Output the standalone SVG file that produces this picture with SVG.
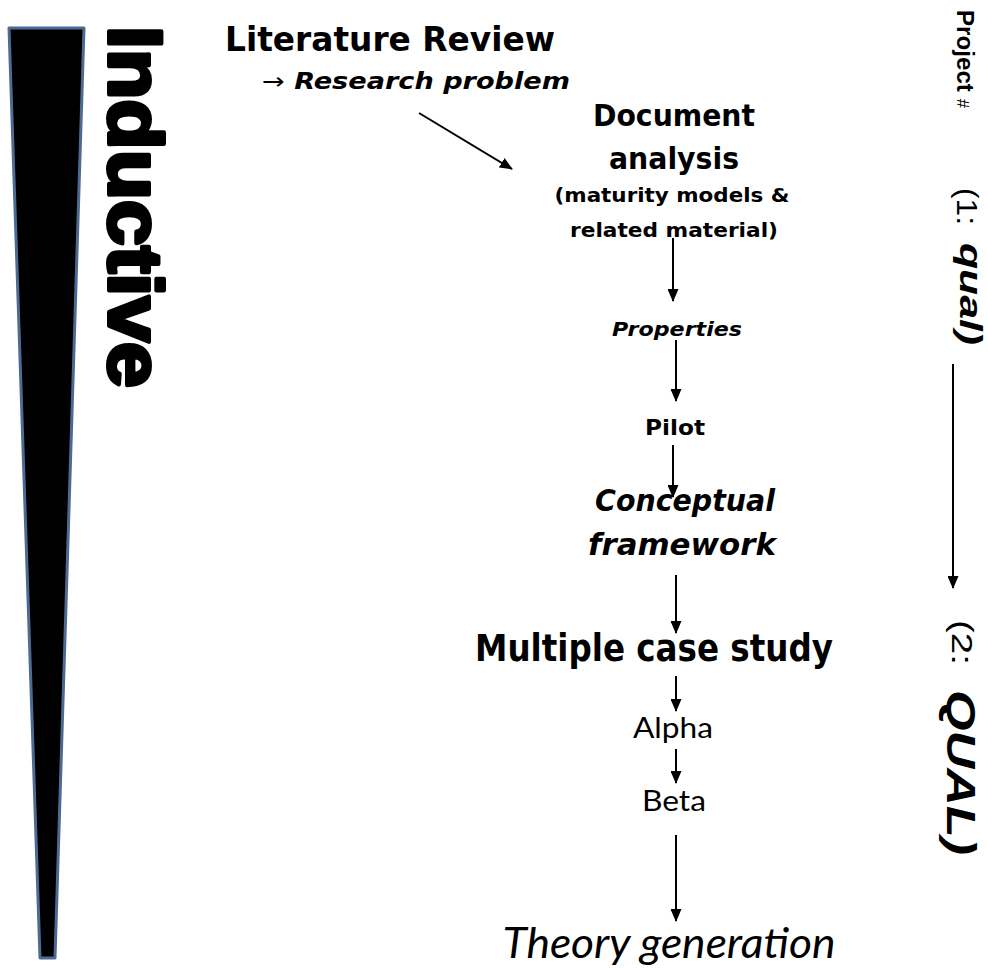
<svg xmlns="http://www.w3.org/2000/svg" width="988" height="968" viewBox="0 0 988 968">
  <defs>
    <marker id="arrowhead-lg" markerWidth="13" markerHeight="11" refX="12" refY="5.5" orient="auto" markerUnits="userSpaceOnUse" viewBox="0 0 13 11">
      <path d="M0,0 L13,5.5 L0,11 Z" fill="#000"/>
    </marker>
  </defs>
  <style>
    .geo { font-family: "DejaVu Sans", "Liberation Sans", sans-serif; font-weight: bold; fill: #000; }
    .geo-it { font-family: "DejaVu Sans", "Liberation Sans", sans-serif; font-weight: bold; font-style: italic; fill: #000; }
    .plain { font-family: Lato, "Open Sans", "Liberation Sans", sans-serif; fill: #000; }
    .side { font-family: "Liberation Sans", Arial, sans-serif; fill: #000; }
    .link { stroke: #000; stroke-width: 2; fill: none; marker-end: url(#arrowhead-lg); }
  </style>
  <rect width="988" height="968" fill="#fff"/>

  <!-- tapering wedge with its vertical title -->
  <g id="wedge">
    <polygon points="9,28 84,28 55,958 40,958" fill="#000" stroke="#4d6b92" stroke-width="3" stroke-linejoin="round"/>
    <text class="side" font-weight="bold" font-size="76" stroke="#000" stroke-width="4" stroke-linejoin="round" transform="translate(109,26) rotate(90)" textLength="362" lengthAdjust="spacingAndGlyphs">Inductive</text>
  </g>

  <!-- project labels along the right edge -->
  <g id="project-label">
    <text class="side" font-weight="bold" font-size="23" transform="translate(957,10) rotate(90)" textLength="98" lengthAdjust="spacingAndGlyphs">Project <tspan font-weight="normal" font-size="16">#</tspan></text>
  </g>
  <g id="project-1">
    <text class="side" font-size="29" transform="translate(957,188) rotate(90)" textLength="37" lengthAdjust="spacingAndGlyphs">(1:</text>
    <text class="side" font-weight="bold" font-style="italic" font-size="31" transform="translate(960,243) rotate(90)" textLength="102" lengthAdjust="spacingAndGlyphs">qual)</text>
  </g>
  <g id="project-2">
    <text class="side" font-size="30" transform="translate(952,620) rotate(90)" textLength="45" lengthAdjust="spacingAndGlyphs">(2:</text>
    <text class="side" font-weight="bold" font-style="italic" font-size="41" transform="translate(947,690) rotate(90)" textLength="165" lengthAdjust="spacingAndGlyphs">QUAL)</text>
  </g>

  <!-- flow nodes -->
  <g id="literature-review">
    <text class="geo" font-size="33" x="225" y="51" textLength="330" lengthAdjust="spacingAndGlyphs">Literature Review</text>
    <text class="geo-it" font-size="23" x="262" y="89" textLength="308" lengthAdjust="spacingAndGlyphs"><tspan font-weight="normal" font-style="normal">→</tspan> Research problem</text>
  </g>
  <g id="document-analysis">
    <text class="geo" font-size="30" x="674" y="126" text-anchor="middle" textLength="162" lengthAdjust="spacingAndGlyphs">Document</text>
    <text class="geo" font-size="30" x="674" y="169" text-anchor="middle" textLength="130" lengthAdjust="spacingAndGlyphs">analysis</text>
    <text class="geo" font-size="19" x="672" y="202" text-anchor="middle" textLength="235" lengthAdjust="spacingAndGlyphs">(maturity models &amp;</text>
    <text class="geo" font-size="19" x="674" y="237" text-anchor="middle" textLength="208" lengthAdjust="spacingAndGlyphs">related material)</text>
  </g>
  <g id="properties">
    <text class="geo-it" font-size="20" x="677" y="336" text-anchor="middle" textLength="130" lengthAdjust="spacingAndGlyphs">Properties</text>
  </g>
  <g id="pilot">
    <text class="geo" font-size="21" x="675" y="435" text-anchor="middle" textLength="60" lengthAdjust="spacingAndGlyphs">Pilot</text>
  </g>
  <g id="conceptual-framework">
    <text class="geo-it" font-size="30" x="685" y="511" text-anchor="middle" textLength="180" lengthAdjust="spacingAndGlyphs">Conceptual</text>
    <text class="geo-it" font-size="30" x="682" y="555" text-anchor="middle" textLength="188" lengthAdjust="spacingAndGlyphs">framework</text>
  </g>
  <g id="multiple-case-study">
    <text class="geo" font-size="37" x="654" y="661" text-anchor="middle" textLength="358" lengthAdjust="spacingAndGlyphs">Multiple case study</text>
  </g>
  <g id="alpha">
    <text class="plain" font-size="29" x="673" y="738" text-anchor="middle" textLength="80" lengthAdjust="spacingAndGlyphs">Alpha</text>
  </g>
  <g id="beta">
    <text class="plain" font-size="29" x="674" y="811" text-anchor="middle" textLength="64" lengthAdjust="spacingAndGlyphs">Beta</text>
  </g>
  <g id="theory-generation">
    <text class="plain" font-style="italic" font-size="42" x="669" y="958" text-anchor="middle" textLength="333" lengthAdjust="spacingAndGlyphs">Theory generation</text>
  </g>

  <!-- connectors -->
  <g id="connectors">
    <line class="link" x1="419" y1="113" x2="512" y2="169"/>
    <line class="link" x1="673" y1="238" x2="673" y2="301"/>
    <line class="link" x1="676" y1="340" x2="676" y2="401"/>
    <line class="link" x1="673" y1="445" x2="673" y2="497"/>
    <line class="link" x1="676" y1="575" x2="676" y2="633"/>
    <line class="link" x1="676" y1="676" x2="676" y2="711"/>
    <line class="link" x1="676" y1="749" x2="676" y2="783"/>
    <line class="link" x1="676" y1="835" x2="676" y2="921"/>
    <line class="link" x1="953" y1="364" x2="953" y2="588"/>
  </g>
</svg>
